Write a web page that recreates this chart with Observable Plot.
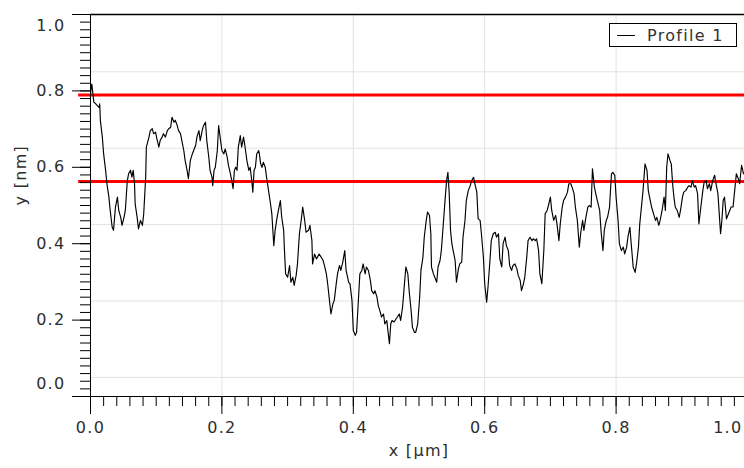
<!DOCTYPE html>
<html><head><meta charset="utf-8">
<script src="https://cdn.jsdelivr.net/npm/d3@7"></script>
<script src="https://cdn.jsdelivr.net/npm/@observablehq/plot@0.6"></script>
<style>
html,body{margin:0;padding:0;background:#fff;overflow:hidden;}
#wrap{position:relative;width:744px;height:468px;overflow:hidden;}
#legend{position:absolute;left:609px;top:23px;width:126px;height:22px;border:1px solid #000;background:#fff;font-family:"DejaVu Sans";font-size:16px;letter-spacing:1.3px;color:#333;display:flex;align-items:center;}
#legend .sw{display:inline-block;width:18px;height:0;border-top:1.3px solid #000;margin-left:7px;margin-right:12px;}
</style></head><body><div id="wrap"></div>
<script>
// Profile 1 (x in µm, y in nm)
const profileX = [
0.000,0.002,0.004,0.005,0.008,0.010,0.013,0.014,0.015,0.018,
0.020,0.023,0.025,0.028,0.030,0.033,0.035,0.038,0.041,0.043,
0.046,0.048,0.051,0.053,0.056,0.058,0.061,0.063,0.065,0.067,
0.068,0.071,0.073,0.076,0.079,0.081,0.084,0.085,0.089,0.091,
0.094,0.096,0.099,0.101,0.104,0.106,0.109,0.111,0.114,0.117,
0.119,0.122,0.124,0.127,0.129,0.132,0.134,0.137,0.139,0.142,
0.144,0.147,0.149,0.152,0.155,0.157,0.160,0.162,0.165,0.167,
0.170,0.172,0.175,0.177,0.180,0.182,0.185,0.186,0.188,0.190,
0.193,0.195,0.198,0.200,0.203,0.205,0.208,0.210,0.213,0.215,
0.217,0.219,0.221,0.223,0.225,0.228,0.230,0.233,0.236,0.238,
0.241,0.243,0.246,0.247,0.249,0.251,0.253,0.256,0.257,0.259,
0.261,0.263,0.266,0.268,0.271,0.274,0.276,0.279,0.281,0.284,
0.286,0.289,0.291,0.294,
0.295,0.297,0.300,0.303,0.305,0.308,0.310,0.313,0.315,0.318,
0.321,0.323,0.326,0.328,0.332,0.334,0.337,0.338,0.341,0.344,
0.348,0.351,0.354,0.356,0.359,0.361,0.364,0.366,0.369,0.371,
0.374,0.376,0.379,0.381,0.384,0.387,0.389,0.393,0.395,0.398,
0.400,0.403,0.405,0.408,0.410,0.413,0.415,0.418,0.420,0.423,
0.426,0.428,0.431,0.433,0.436,0.438,0.441,0.443,0.446,0.448,
0.451,0.453,0.455,0.457,0.459,0.462,0.465,0.467,0.470,0.472,
0.475,0.477,0.480,0.483,0.485,0.488,0.490,0.493,0.495,0.498,
0.501,0.503,0.506,0.508,0.511,0.513,0.516,0.518,0.519,0.522,
0.524,0.527,0.529,0.532,0.534,0.537,0.540,0.542,0.544,0.546,
0.548,0.550,0.552,0.555,0.557,0.560,0.562,0.565,0.567,0.570,
0.572,0.575,0.578,0.580,0.583,0.585,0.588,0.590,0.593,0.595,
0.598,0.600,0.603,0.605,0.608,0.610,0.613,0.616,0.618,0.621,
0.623,0.626,0.628,0.631,0.633,0.636,0.638,0.641,0.643,0.646,
0.649,0.651,0.654,0.656,0.659,0.661,0.664,0.666,
0.669,0.672,0.674,0.677,0.679,0.682,0.684,0.687,0.690,0.692,
0.695,0.697,0.700,0.702,0.705,0.708,0.710,0.713,0.715,0.718,
0.720,0.723,0.726,0.728,0.731,0.733,0.736,0.738,0.741,0.744,
0.746,0.749,0.751,0.754,0.757,0.759,0.762,0.764,0.767,0.769,
0.772,0.775,0.777,0.780,0.782,0.785,0.787,0.790,0.793,0.795,
0.798,0.800,0.803,0.805,0.808,0.811,0.813,0.816,0.818,0.821,
0.823,0.826,0.829,0.831,0.834,0.836,0.839,0.841,0.844,0.847,
0.849,0.852,0.854,0.857,0.860,0.862,0.865,0.867,0.870,0.873,
0.875,0.877,0.879,0.882,0.884,0.886,0.888,0.890,0.893,0.896,
0.898,0.901,0.903,0.906,0.909,0.911,0.914,0.916,0.919,0.921,
0.924,0.926,0.929,0.932,0.934,0.937,0.939,0.942,0.944,0.947,
0.950,0.952,0.955,0.957,0.959,0.961,0.963,0.965,0.968,0.970,
0.973,0.975,0.978,0.981,0.983,0.986,0.988,0.991,0.994
];
const profileY = [
0.792,0.818,0.788,0.771,0.766,0.762,0.757,0.766,0.723,0.679,
0.635,0.592,0.557,0.522,0.487,0.443,0.435,0.496,0.522,0.487,
0.469,0.448,0.469,0.487,0.565,0.583,0.592,0.574,0.592,0.557,
0.504,0.469,0.439,0.461,0.448,0.478,0.574,0.653,0.679,0.696,
0.701,0.688,0.692,0.675,0.653,0.670,0.679,0.688,0.679,0.696,
0.701,0.705,0.731,0.718,0.723,0.709,0.696,0.688,0.670,0.644,
0.618,0.592,0.570,0.618,0.635,0.644,0.657,0.679,0.696,0.670,
0.696,0.709,0.718,0.670,0.627,0.592,0.574,0.552,0.592,0.600,
0.644,0.709,0.670,0.644,0.635,0.648,0.627,0.605,0.583,0.565,
0.544,0.592,0.600,0.592,0.653,0.683,0.653,0.679,0.644,0.618,
0.592,0.600,0.557,0.535,0.592,0.600,0.635,0.644,0.635,0.609,
0.600,0.613,0.600,0.574,0.539,0.504,0.478,0.395,0.435,0.469,
0.487,0.513,0.470,0.435,
0.391,0.321,0.312,0.343,0.299,0.312,0.291,0.317,0.347,0.426,
0.465,0.496,0.461,0.430,0.435,0.448,0.408,0.347,0.373,0.360,
0.373,0.365,0.356,0.343,0.321,0.295,0.247,0.216,0.243,0.251,
0.295,0.321,0.343,0.330,0.352,0.382,0.330,0.299,0.295,0.251,
0.173,0.160,0.168,0.260,0.321,0.330,0.347,0.321,0.339,0.330,
0.304,0.277,0.269,0.277,0.260,0.238,0.221,0.208,0.216,0.190,
0.199,0.168,0.138,0.190,0.199,0.195,0.203,0.208,0.216,0.199,
0.234,0.277,0.339,0.321,0.277,0.225,0.181,0.168,0.168,0.190,
0.260,0.330,0.365,0.417,0.461,0.483,0.474,0.426,0.339,0.321,
0.312,0.299,0.339,0.356,0.382,0.452,0.522,0.565,0.587,0.531,
0.435,0.400,0.382,0.356,0.299,0.334,0.347,0.352,0.417,0.461,
0.513,0.539,0.552,0.565,0.574,0.557,0.535,0.465,0.461,0.426,
0.365,0.295,0.247,0.286,0.356,0.408,0.426,0.430,0.417,0.426,
0.360,0.339,0.400,0.417,0.395,0.382,0.343,0.330,0.343,0.347,
0.334,0.317,0.304,0.277,0.295,0.312,0.365,0.408,
0.417,0.408,0.413,0.408,0.413,0.382,0.321,0.295,0.382,0.478,
0.487,0.500,0.522,0.487,0.461,0.474,0.452,0.408,0.452,0.496,
0.513,0.522,0.535,0.557,0.557,0.548,0.531,0.496,0.461,0.391,
0.426,0.461,0.435,0.469,0.496,0.500,0.496,0.596,0.548,0.531,
0.509,0.487,0.435,0.382,0.435,0.461,0.469,0.496,0.583,0.587,
0.579,0.522,0.461,0.400,0.382,0.391,0.373,0.391,0.417,0.443,
0.400,0.339,0.325,0.347,0.391,0.452,0.504,0.539,0.609,0.592,
0.539,0.513,0.496,0.478,0.461,0.469,0.448,0.461,0.487,0.522,
0.487,0.600,0.635,0.618,0.609,0.557,0.522,0.496,0.487,0.469,
0.487,0.522,0.535,0.539,0.548,0.552,0.548,0.565,0.548,0.552,
0.531,0.452,0.496,0.539,0.561,0.565,0.544,0.557,0.539,0.565,
0.579,0.557,0.531,0.478,0.426,0.461,0.513,0.522,0.465,0.474,
0.487,0.496,0.496,0.548,0.583,0.570,0.557,0.605,0.583
];
// Horizontal reference levels (nm)
const refLevels = [0.789, 0.563];
// Axis ticks
const xMajor = [0, 0.2, 0.4, 0.6, 0.8, 1.0];
const yMajor = [0, 0.2, 0.4, 0.6, 0.8, 1.0];
const xMinor = d3.range(0, 51).map(i => i / 50);
const yMinor = d3.range(0, 51).map(i => i / 50);
const yGrid = [0.05, 0.25, 0.45, 0.65, 0.85];
const xLabel = "x [µm]";
const yLabel = "y [nm]";
const seriesName = "Profile 1";

const n = Math.min(profileX.length, profileY.length);
const profile = d3.range(n).map(i => ({x: profileX[i], y: profileY[i]}));
const fmt = d => d.toFixed(1);
const txt = "#2e2e2e";

const chart = Plot.plot({
  width: 744, height: 468,
  marginLeft: 90, marginRight: -3, marginTop: 14, marginBottom: 72,
  x: {domain: [0, 1], axis: null},
  y: {domain: [0, 1], axis: null},
  style: {fontFamily: "DejaVu Sans", fontSize: "16px", letterSpacing: "1.3px", background: "#fff", color: txt},
  marks: [
    Plot.gridX(xMajor.slice(1), {stroke: "#e2e2e2", strokeOpacity: 1}),
    Plot.gridY(yGrid, {stroke: "#e2e2e2", strokeOpacity: 1}),
    Plot.ruleY(refLevels, {x1: -0.018, x2: 1.0, stroke: "#ff0000", strokeWidth: 3}),
    Plot.line(profile, {x: "x", y: "y", stroke: "#000", strokeWidth: 1.15}),
    Plot.ruleY([0], {x1: -0.015, x2: 1.0, stroke: "#000"}),
    Plot.ruleY([1], {stroke: "#000", strokeWidth: 1.3}),
    Plot.ruleX([0], {stroke: "#000"}),
    Plot.axisY(yMinor, {anchor: "left", tickSize: 10, tickFormat: () => "", label: null, stroke: "#000"}),
    Plot.axisY(yMajor, {anchor: "left", tickSize: 18, tickFormat: () => "", label: null, stroke: "#000"}),
    Plot.axisX(xMinor, {anchor: "bottom", tickSize: 10, tickFormat: () => "", label: null, stroke: "#000"}),
    Plot.axisX(xMajor, {anchor: "bottom", tickSize: 18, tickFormat: () => "", label: null, stroke: "#000"}),
    Plot.text(yMajor.slice(1, -1), {y: d => d, text: fmt, frameAnchor: "left", dx: -25, textAnchor: "end", fill: txt}),
    Plot.text(yMajor.slice(-1), {y: d => d, text: fmt, frameAnchor: "left", dx: -25, dy: 11, textAnchor: "end", fill: txt}),
    Plot.text(yMajor.slice(0, 1), {y: d => d, text: fmt, frameAnchor: "left", dx: -25, dy: -13, textAnchor: "end", fill: txt}),
    Plot.text(xMajor.slice(0, -1), {x: d => d, text: fmt, frameAnchor: "bottom", dy: 36, fill: txt}),
    Plot.text(xMajor.slice(-1), {x: d => d, text: fmt, frameAnchor: "bottom", dy: 36, dx: -5, textAnchor: "end", fill: txt}),
    Plot.text([yLabel], {text: d => d, frameAnchor: "left", dx: -70, rotate: -90, fill: txt}),
    Plot.text([xLabel], {text: d => d, frameAnchor: "bottom", dy: 59, fill: txt})
  ]
});
const wrap = document.getElementById("wrap");
wrap.appendChild(chart);
const leg = document.createElement("div");
leg.id = "legend";
leg.innerHTML = '<span class="sw"></span><span>' + seriesName + '</span>';
wrap.appendChild(leg);
</script></body></html>
